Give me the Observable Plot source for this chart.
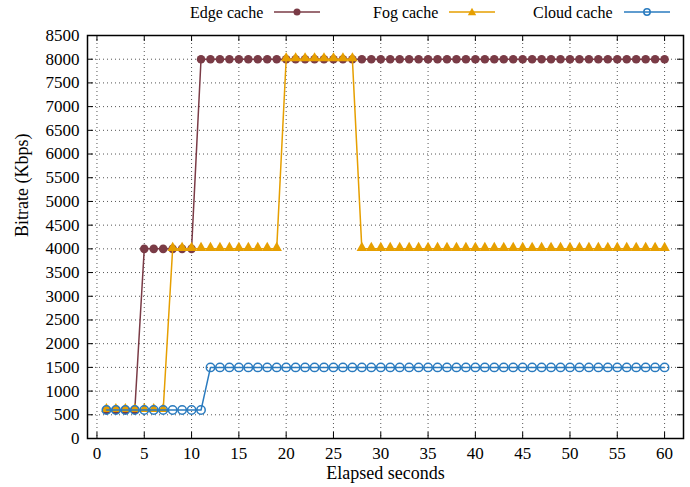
<!DOCTYPE html>
<html>
<head>
<meta charset="utf-8">
<script src="https://cdn.jsdelivr.net/npm/d3@7"></script>
<script src="https://cdn.jsdelivr.net/npm/@observablehq/plot@0.6"></script>
</head>
<body style="margin:0;background:#fff">
<div id="wrap" style="position:relative;width:690px;height:487px;font-family:'Liberation Serif',serif;font-size:16px;color:#000">
  <div style="position:absolute;top:5px;left:190px;white-space:nowrap;line-height:16px">Edge cache<svg width="46" height="16" style="margin-left:11px;vertical-align:middle;margin-top:-4px"><line x1="0" y1="8" x2="46" y2="8" stroke="#7a3b46" stroke-width="1.5"/><circle cx="23" cy="8" r="3.5" fill="#7a3b46"/></svg></div>
  <div style="position:absolute;top:5px;left:373px;white-space:nowrap;line-height:16px">Fog cache<svg width="46" height="16" style="margin-left:11px;vertical-align:middle;margin-top:-4px"><line x1="0" y1="8" x2="46" y2="8" stroke="#e69f00" stroke-width="1.5"/><path d="M23,3.8 L27.2,11.2 L18.8,11.2 Z" fill="#e69f00"/></svg></div>
  <div style="position:absolute;top:5px;left:533px;white-space:nowrap;line-height:16px">Cloud cache<svg width="46" height="16" style="margin-left:11px;vertical-align:middle;margin-top:-4px"><line x1="0" y1="8" x2="46" y2="8" stroke="#2a7bbf" stroke-width="1.5"/><circle cx="23" cy="8" r="3.2" fill="none" stroke="#2a7bbf" stroke-width="1.5"/></svg></div>
</div>
<script>
const seconds = [1,2,3,4,5,6,7,8,9,10,11,12,13,14,15,16,17,18,19,20,21,22,23,24,25,26,27,28,29,30,31,32,33,34,35,36,37,38,39,40,41,42,43,44,45,46,47,48,49,50,51,52,53,54,55,56,57,58,59,60];
const edgeCache = [600,600,600,600,4000,4000,4000,4000,4000,4000,
  8000,8000,8000,8000,8000,8000,8000,8000,8000,8000,
  8000,8000,8000,8000,8000,8000,8000,8000,8000,8000,
  8000,8000,8000,8000,8000,8000,8000,8000,8000,8000,
  8000,8000,8000,8000,8000,8000,8000,8000,8000,8000,
  8000,8000,8000,8000,8000,8000,8000,8000,8000,8000];
const fogCache = [600,600,600,600,600,600,600,4000,4000,4000,
  4000,4000,4000,4000,4000,4000,4000,4000,4000,8000,
  8000,8000,8000,8000,8000,8000,8000,4000,4000,4000,
  4000,4000,4000,4000,4000,4000,4000,4000,4000,4000,
  4000,4000,4000,4000,4000,4000,4000,4000,4000,4000,
  4000,4000,4000,4000,4000,4000,4000,4000,4000,4000];
const cloudCache = [600,600,600,600,600,600,600,600,600,600,
  600,1500,1500,1500,1500,1500,1500,1500,1500,1500,
  1500,1500,1500,1500,1500,1500,1500,1500,1500,1500,
  1500,1500,1500,1500,1500,1500,1500,1500,1500,1500,
  1500,1500,1500,1500,1500,1500,1500,1500,1500,1500,
  1500,1500,1500,1500,1500,1500,1500,1500,1500,1500];
const seriesNames = ["Edge cache", "Fog cache", "Cloud cache"];
const seriesColors = ["#7a3b46", "#e69f00", "#2a7bbf"];
const xTicks = [0,5,10,15,20,25,30,35,40,45,50,55,60];
const yTicks = [0,500,1000,1500,2000,2500,3000,3500,4000,4500,5000,5500,6000,6500,7000,7500,8000,8500];

const W = 690, H = 487, mL = 87, mR = 7, mT = 35, mB = 49;
const innerW = W - mL - mR, innerH = H - mT - mB;
const serif = "Liberation Serif, serif";

const edge = seconds.map((s, i) => ({x: s, y: edgeCache[i]}));
const fog = seconds.map((s, i) => ({x: s, y: fogCache[i]}));
const cloud = seconds.map((s, i) => ({x: s, y: cloudCache[i]}));

const chart = Plot.plot({
  width: W, height: H,
  marginLeft: mL, marginRight: mR, marginTop: mT, marginBottom: mB,
  style: {fontFamily: serif, fontSize: "17px", color: "#000", background: "transparent"},
  x: {domain: [-1, 62]},
  y: {domain: [0, 8500]},
  marks: [
    Plot.gridX(xTicks, {stroke: "#555", strokeOpacity: 1, strokeDasharray: "1,3", strokeWidth: 1}),
    Plot.gridY(yTicks, {stroke: "#555", strokeOpacity: 1, strokeDasharray: "1,3", strokeWidth: 1}),
    Plot.tickY(yTicks, {y: d => d, stroke: "#000", strokeWidth: 1, insetRight: innerW - 6}),
    Plot.tickY(yTicks, {y: d => d, stroke: "#000", strokeWidth: 1, insetLeft: innerW - 6}),
    Plot.tickX(xTicks, {x: d => d, stroke: "#000", strokeWidth: 1, insetTop: innerH - 6}),
    Plot.tickX(xTicks, {x: d => d, stroke: "#000", strokeWidth: 1, insetBottom: innerH - 6}),
    Plot.axisX({ticks: xTicks, tickSize: 0, tickPadding: 8, label: null, fontSize: 17, fontFamily: serif, tickFormat: d => String(d)}),
    Plot.axisY({ticks: yTicks, tickSize: 0, tickPadding: 8, label: null, fontSize: 17, fontFamily: serif, tickFormat: d => String(d)}),
    Plot.text(["Elapsed seconds"], {frameAnchor: "bottom", dy: 35, fontSize: 18, fontFamily: serif, lineAnchor: "middle"}),
    Plot.text(["Bitrate (Kbps)"], {frameAnchor: "left", dx: -65, rotate: -90, fontSize: 18, fontFamily: serif}),
    Plot.line(edge, {x: "x", y: "y", stroke: seriesColors[0], strokeWidth: 1.5}),
    Plot.dot(edge, {x: "x", y: "y", fill: seriesColors[0], r: 4.3, symbol: "circle"}),
    Plot.line(fog, {x: "x", y: "y", stroke: seriesColors[1], strokeWidth: 1.5}),
    Plot.dot(fog, {x: "x", y: "y", fill: seriesColors[1], r: 3.9, symbol: "triangle", dy: -1}),
    Plot.line(cloud, {x: "x", y: "y", stroke: seriesColors[2], strokeWidth: 1.5}),
    Plot.dot(cloud, {x: "x", y: "y", stroke: seriesColors[2], fill: "none", r: 4.2, strokeWidth: 1.5, symbol: "circle"}),
    Plot.frame({stroke: "#000", strokeWidth: 1.5})
  ]
});
chart.style.position = "absolute";
chart.style.left = "0px";
chart.style.top = "0px";
document.getElementById("wrap").appendChild(chart);
</script>
</body>
</html>
